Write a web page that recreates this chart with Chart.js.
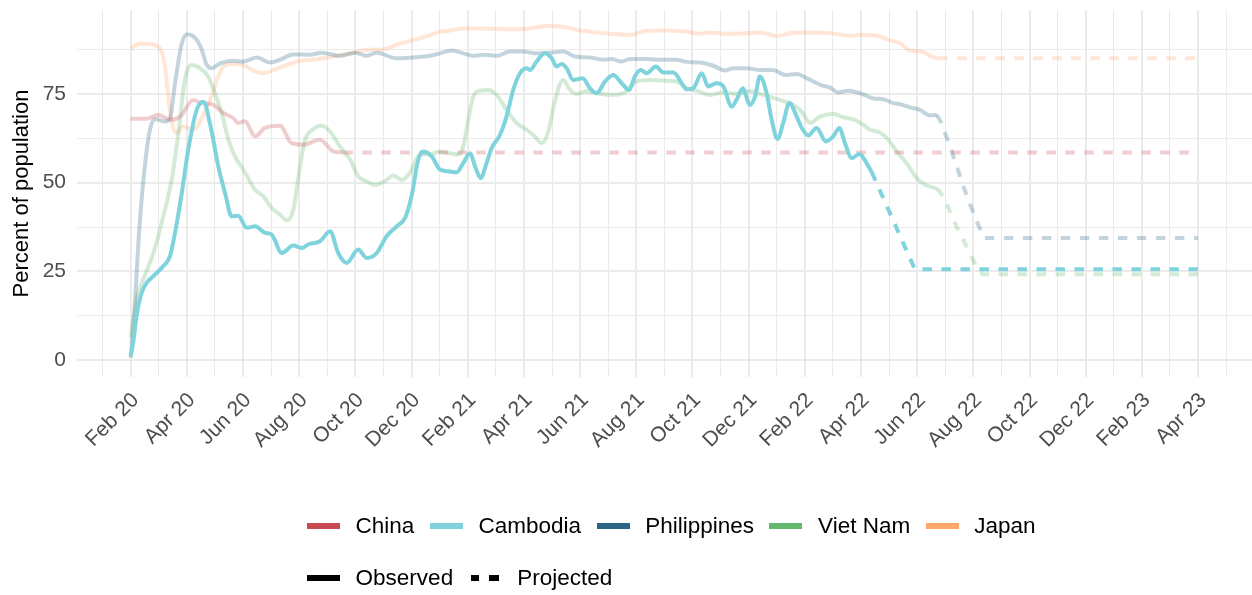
<!DOCTYPE html>
<html>
<head>
<meta charset="utf-8">
<script src="https://cdn.jsdelivr.net/npm/chart.js@4.4.0/dist/chart.umd.min.js"></script>
<style>
  html, body { margin: 0; padding: 0; background: #fff; }
  #wrap { position: relative; width: 1252px; height: 595px; font-family: "Liberation Sans", Arial, sans-serif; }
  #chart { position: absolute; left: 0; top: 0; }
  .legend-row { position: absolute; left: 307px; height: 30px; display: flex; align-items: center; font-size: 22.5px; color: #000; white-space: nowrap; }
  .key { width: 33px; height: 6px; margin-right: 15.6px; flex: none; }
  .key.dash { background: linear-gradient(to right, transparent 0 2px, #000 2px 10.5px, transparent 10.5px 20.5px, #000 20.5px 30.5px, transparent 30.5px); }
  .lbl { margin-right: 15.5px; }
</style>
</head>
<body>
<div id="wrap">
  <canvas id="chart" width="1252" height="595"></canvas>
  <div class="legend-row" id="legendCountries" style="top:511px"></div>
  <div class="legend-row" style="top:563px">
    <div class="key" style="background:#000"></div><span class="lbl">Observed</span>
    <div class="key dash"></div><span class="lbl">Projected</span>
  </div>
</div>
<script>
'use strict';

// x = months since Feb 2020, y = percent of population
const countries = ['China', 'Cambodia', 'Philippines', 'Viet Nam', 'Japan'];
const colours = ['#C94A53', '#7FD3DC', '#2A6585', '#62B86C', '#FFA66B'];
const tickLabels = ['Feb 20', 'Apr 20', 'Jun 20', 'Aug 20', 'Oct 20', 'Dec 20', 'Feb 21', 'Apr 21', 'Jun 21', 'Aug 21',
  'Oct 21', 'Dec 21', 'Feb 22', 'Apr 22', 'Jun 22', 'Aug 22', 'Oct 22', 'Dec 22', 'Feb 23', 'Apr 23'];
const yTicks = [0, 12.5, 25, 37.5, 50, 62.5, 75, 87.5];

const chinaX = [0, 0.57, 0.98, 1.40, 1.76, 2.23, 2.47, 2.94, 3.30, 3.65, 3.83, 4.07, 4.43, 4.78, 5.32, 5.73, 6.15, 6.74, 7.21, 7.57];
const chinaY = [68.0, 68.0, 69.1, 67.7, 68.6, 73.3, 72.5, 71.9, 69.6, 68.2, 66.8, 67.3, 63.0, 65.4, 66.0, 61.1, 60.7, 62.1, 58.8, 58.5];
const chinaProjX = [7.57, 38];
const chinaProjY = [58.5, 58.5];

const cambodiaX = [0, 0.09, 0.21, 0.39, 0.57, 0.81, 1.16, 1.40, 1.58, 1.82, 2.05, 2.35, 2.59, 2.82, 3.12, 3.36, 3.60, 3.83,
  4.13, 4.43, 4.78, 5.02, 5.38, 5.79, 6.09, 6.32, 6.74, 7.10, 7.39, 7.69, 8.10, 8.40, 8.76, 9.11, 9.47, 9.77, 10.00, 10.24,
  10.42, 10.72, 11.01, 11.31, 11.60, 11.84, 12.08, 12.26, 12.46, 12.67, 12.85, 13.15, 13.38, 13.62, 13.86, 14.10, 14.22,
  14.45, 14.75, 14.99, 15.16, 15.34, 15.52, 15.76, 16.09, 16.35, 16.59, 16.89, 17.18, 17.48, 17.75, 17.95, 18.16, 18.37,
  18.70, 18.96, 19.32, 19.62, 19.79, 20.03, 20.33, 20.56, 20.86, 21.10, 21.40, 21.57, 21.79, 22.05, 22.23, 22.40, 22.64,
  22.82, 23.03, 23.23, 23.45, 23.71, 23.89, 24.12, 24.42, 24.75, 25.01, 25.23, 25.43, 25.67, 25.94, 26.20, 26.38];
const cambodiaY = [1.2, 5.0, 12.5, 19.0, 21.8, 23.7, 26.5, 29.3, 35.9, 47.1, 59.3, 70.5, 72.8, 66.8, 54.6, 47.1, 40.5, 40.7,
  37.3, 37.7, 35.9, 35.4, 30.2, 32.3, 31.6, 32.6, 33.5, 36.3, 30.2, 27.4, 31.2, 28.8, 30.2, 34.9, 37.7, 40.1, 46.2, 56.5,
  58.8, 57.4, 53.7, 53.2, 52.9, 55.5, 58.3, 54.6, 51.3, 55.5, 59.7, 63.5, 68.6, 76.1, 80.8, 82.2, 81.7,
  84.1, 86.4, 85.0, 82.7, 83.4, 82.2, 78.9, 79.4, 76.6, 75.2, 78.5, 80.3, 78.0, 76.1, 79.9, 81.7, 80.8,
  82.7, 81.0, 81.0, 78.0, 76.3, 76.6, 80.8, 77.1, 78.0, 77.1, 71.4, 73.3, 76.6, 71.9, 74.3, 79.9, 75.2,
  67.7, 62.3, 66.8, 72.4, 68.6, 65.4, 63.3, 65.4, 61.6, 63.0, 65.4, 61.1, 56.9, 58.1, 55.5, 53.0];
const cambodiaProjX = [26.38, 27.92, 38];
const cambodiaProjY = [53.0, 25.6, 25.6];

const philippinesX = [0, 0.12, 0.30, 0.51, 0.69, 0.87, 1.22, 1.40, 1.58, 1.82, 2.02, 2.35, 2.53, 2.71, 2.88, 3.18, 3.65,
  4.01, 4.49, 4.96, 5.32, 5.79, 6.38, 6.80, 7.45, 7.99, 8.40, 8.76, 9.47, 10.18, 10.66, 11.01, 11.43, 11.84, 12.20, 12.61,
  13.03, 13.50, 13.98, 14.45, 14.93, 15.40, 15.82, 16.35, 16.83, 17.12, 17.48, 17.77, 18.37, 18.96, 19.44, 19.79, 20.27,
  20.74, 21.16, 21.45, 21.93, 22.40, 22.88, 23.29, 23.71, 24.12, 24.60, 24.89, 25.19, 25.55, 25.96, 26.44, 26.79, 27.15,
  27.39, 27.74, 28.10, 28.46, 28.70];
const philippinesY = [0.7, 12.0, 36.0, 55.0, 65.0, 67.9, 67.2, 68.2, 78.0, 89.2, 91.8, 90.2, 87.4, 83.1, 82.2, 83.6, 84.3,
  84.1, 85.2, 83.8, 84.6, 86.1, 86.0, 86.6, 85.7, 86.6, 85.7, 86.6, 85.0, 85.3, 85.7, 86.4, 87.2, 86.4, 85.7, 86.0,
  85.7, 86.9, 86.9, 86.4, 86.6, 86.9, 85.5, 85.2, 84.6, 84.8, 84.1, 84.8, 84.8, 84.6, 84.6, 84.0, 83.8,
  82.9, 81.6, 82.2, 82.2, 81.7, 81.7, 80.3, 80.6, 79.2, 77.4, 76.8, 75.4, 75.9, 75.2, 73.7, 73.5, 72.4,
  72.1, 71.2, 70.5, 68.9, 69.1];
const philippinesProjX = [28.70, 28.85, 29.17, 29.65, 30.00, 30.38, 38];
const philippinesProjY = [69.1, 67.0, 60.2, 48.9, 41.4, 34.4, 34.4];

const vietnamX = [0, 0.21, 0.45, 0.81, 1.16, 1.46, 1.70, 1.93, 2.17, 2.47, 2.76, 3.00, 3.24, 3.48, 3.71, 4.01, 4.43, 4.72,
  5.02, 5.32, 5.55, 5.79, 6.03, 6.21, 6.44, 6.80, 7.10, 7.45, 7.81, 8.10, 8.40, 8.70, 9.05, 9.35, 9.65, 9.94, 10.30, 10.66,
  11.01, 11.37, 11.66, 11.84, 12.02, 12.20, 12.44, 12.73, 13.03, 13.38, 13.74, 14.10, 14.39, 14.63, 14.87, 15.11, 15.40,
  15.64, 15.88, 16.23, 16.59, 17.06, 17.54, 18.01, 18.49, 18.96, 19.44, 19.79, 20.15, 20.62, 21.10, 21.57, 22.05, 22.52,
  23.11, 23.59, 23.89, 24.18, 24.54, 25.01, 25.37, 25.78, 26.08, 26.32, 26.67, 26.97, 27.27, 27.62, 27.98, 28.28, 28.70];
const vietnamY = [6.4, 17.1, 22.8, 30.2, 40.5, 50.8, 64.0, 78.9, 83.1, 82.2, 79.9, 75.2, 69.6, 62.1, 57.4, 53.7, 48.0, 46.2,
  42.9, 41.0, 39.4, 42.4, 54.6, 62.1, 64.7, 66.0, 64.4, 60.2, 56.5, 51.8, 50.4, 49.4, 50.4, 52.0, 50.8, 52.7, 57.9, 58.0,
  58.8, 58.3, 57.9, 60.2, 67.7, 74.3, 75.9, 76.1, 74.7, 70.5, 66.8, 64.9, 63.0, 61.1, 64.4, 73.3, 78.9,
  76.1, 75.0, 75.7, 75.2, 74.7, 75.2, 78.5, 78.9, 78.7, 78.5, 76.6, 75.9, 74.7, 75.4, 75.0, 75.7, 74.7,
  73.3, 71.9, 70.0, 66.8, 68.6, 69.4, 68.4, 67.7, 66.3, 64.9, 64.1, 62.1, 58.8, 55.5, 51.3, 49.4, 48.4];
const vietnamProjX = [28.70, 28.93, 29.40, 29.88, 30.12, 30.33, 38];
const vietnamProjY = [48.4, 46.1, 37.7, 30.2, 26.0, 24.2, 24.2];

const japanX = [0, 0.33, 0.69, 1.04, 1.22, 1.40, 1.61, 1.87, 2.23, 2.59, 2.88, 3.12, 3.36, 3.65, 4.01, 4.37, 4.72, 5.08,
  5.55, 6.03, 6.62, 7.21, 7.93, 8.40, 8.99, 9.59, 10.18, 10.70, 11.01, 11.37, 11.84, 12.44, 13.03, 13.62, 14.22, 14.81,
  15.40, 15.88, 16.35, 16.94, 17.77, 18.37, 18.96, 19.79, 20.27, 20.62, 21.10, 21.81, 22.40, 23.00, 23.59, 24.30, 25.01,
  25.67, 25.96, 26.56, 26.97, 27.39, 27.74, 28.16, 28.51, 28.75];
const japanY = [87.8, 89.2, 89.0, 87.8, 82.7, 70.5, 64.0, 65.8, 64.9, 69.1, 74.3, 79.9, 83.1, 83.4, 83.1, 81.6, 80.8, 81.7,
  83.1, 84.3, 84.7, 85.5, 86.6, 87.4, 87.5, 89.2, 90.4, 91.6, 92.5, 92.8, 93.4, 93.4, 93.3, 93.2, 93.4, 94.1,
  93.9, 93.0, 92.5, 92.0, 91.6, 92.7, 92.8, 92.5, 91.9, 92.3, 91.9, 92.0, 92.3, 91.3, 92.2, 92.3, 92.0,
  91.3, 91.6, 91.4, 90.2, 89.2, 87.2, 86.9, 85.5, 85.0];
const japanProjX = [28.75, 38];
const japanProjY = [85.0, 85.0];

const observedX = [chinaX, cambodiaX, philippinesX, vietnamX, japanX];
const observedY = [chinaY, cambodiaY, philippinesY, vietnamY, japanY];
const projectedX = [chinaProjX, cambodiaProjX, philippinesProjX, vietnamProjX, japanProjX];
const projectedY = [chinaProjY, cambodiaProjY, philippinesProjY, vietnamProjY, japanProjY];

const highlighted = 'Cambodia';
const fadeAlpha = 0.28;
const fontFamily = '"Liberation Sans", Arial, sans-serif';

function pts(xs, ys) {
  return xs.map((x, i) => ({ x: x, y: ys[i] }));
}

function fade(hex, a) {
  let r = parseInt(hex.slice(1, 3), 16), g = parseInt(hex.slice(3, 5), 16), b = parseInt(hex.slice(5, 7), 16);
  return `rgba(${r}, ${g}, ${b}, ${a})`;
}

let datasets = [];
countries.forEach((name, i) => {
  let on = name === highlighted;
  let col = on ? colours[i] : fade(colours[i], fadeAlpha);
  datasets.push({
    label: name + ' observed',
    data: pts(observedX[i], observedY[i]),
    borderColor: col,
    borderWidth: 4,
    cubicInterpolationMode: 'monotone',
    borderJoinStyle: 'round',
    order: on ? 0 : 1
  });
  datasets.push({
    label: name + ' projected',
    data: pts(projectedX[i], projectedY[i]),
    borderColor: col,
    borderWidth: 4,
    borderDash: [9.5, 9.5],
    tension: 0,
    order: on ? 0 : 1
  });
});

let monthTicks = [];
for (let m = -1; m <= 39; m++) monthTicks.push(m);

Chart.defaults.font.family = fontFamily;

new Chart(document.getElementById('chart'), {
  type: 'line',
  data: { datasets: datasets },
  options: {
    responsive: false,
    animation: false,
    devicePixelRatio: 1,
    layout: { padding: { top: 10, right: 0, bottom: 118, left: 0 } },
    plugins: { legend: { display: false }, tooltip: { enabled: false } },
    elements: { point: { radius: 0 } },
    scales: {
      x: {
        type: 'linear',
        min: -1.91,
        max: 39.92,
        afterBuildTicks: (s) => { s.ticks = monthTicks.map(v => ({ value: v })); },
        afterFit: (s) => { s.height = 100; s.paddingLeft = 0; s.paddingRight = 0; },
        border: { display: false },
        grid: {
          color: '#EBEBEB',
          drawTicks: false,
          lineWidth: (c) => (c.tick && c.tick.value % 2 === 0) ? 2 : 1
        },
        ticks: {
          autoSkip: false,
          minRotation: 45,
          maxRotation: 45,
          padding: 11,
          labelOffset: 5,
          color: '#4D4D4D',
          font: { size: 21 },
          callback: (v) => (v >= 0 && v % 2 === 0) ? tickLabels[v / 2] : ''
        }
      },
      y: {
        min: -4.7,
        max: 98.6,
        afterBuildTicks: (s) => { s.ticks = yTicks.map(v => ({ value: v })); },
        afterFit: (s) => { s.width = 77; s.paddingTop = 0; s.paddingBottom = 0; },
        border: { display: false },
        grid: {
          color: '#EBEBEB',
          drawTicks: false,
          lineWidth: (c) => (c.tick && c.tick.value % 25 === 0) ? 2 : 1
        },
        ticks: {
          padding: 11,
          color: '#4D4D4D',
          font: { size: 21 },
          callback: (v) => v % 25 === 0 ? v : ''
        },
        title: {
          display: true,
          text: 'Percent of population',
          color: '#000',
          font: { size: 22 },
          padding: { top: 9, bottom: 0 }
        }
      }
    }
  }
});

let legendBox = document.getElementById('legendCountries');
countries.forEach((name, i) => {
  legendBox.innerHTML += `<div class="key" style="background:${colours[i]}"></div><span class="lbl">${name}</span>`;
});
</script>
</body>
</html>
